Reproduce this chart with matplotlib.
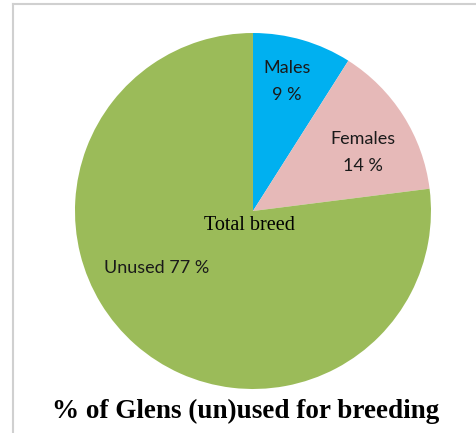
import matplotlib.pyplot as plt
from matplotlib.lines import Line2D

labels = ["Males", "Females", "Unused"]
shares = [9, 14, 77]
colors = ["#00B0F0", "#E6B9B8", "#9BBB59"]

# where Excel put the data labels (data coords, pie radius 1)
label_pos = [(0.19, 0.73), (0.62, 0.33), (-0.54, -0.32)]
label_txt = ["Males\n9 %", "Females\n14 %", "Unused 77 %"]

fig = plt.figure(figsize=(4.77, 4.33), dpi=100)
ax = fig.add_axes([0.1572, 0.1016, 0.7463, 0.8222])

ax.pie(shares, colors=colors, startangle=90, counterclock=False,
       radius=1, frame=False, wedgeprops=dict(linewidth=0))
ax.set_xlim(-1, 1)
ax.set_ylim(-1, 1)
ax.axis("off")

for (x, y), t in zip(label_pos, label_txt):
    ax.text(x, y, t, ha="center", va="center", fontsize=13,
            family="Lato", color="#1a1a1a", linespacing=1.85)

ax.text(-0.02, -0.08, "Total breed", ha="center", va="center",
        fontsize=14.5, family="Liberation Serif", color="black")

fig.text(246 / 477, 1 - 411 / 433, "% of Glens (un)used for breeding",
         ha="center", va="center", fontsize=19.5, fontweight="bold",
         family="Liberation Serif", color="black")

# chart-area border (only left and top edges are visible in the crop)
fig.add_artist(Line2D([13 / 477, 13 / 477], [0, 1 - 4 / 433],
                      color="#D0D0D0", linewidth=1.5))
fig.add_artist(Line2D([13 / 477, 1], [1 - 4 / 433, 1 - 4 / 433],
                      color="#D0D0D0", linewidth=1.5))

fig.savefig("out.png", dpi=100)
